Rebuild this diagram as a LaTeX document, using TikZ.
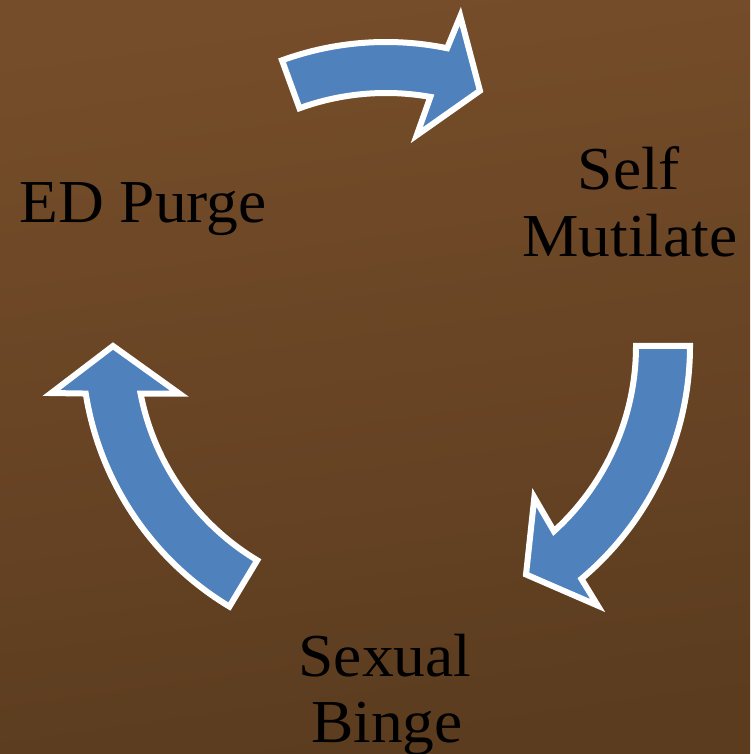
\documentclass[tikz,border=0pt]{standalone}
\usepackage{fontspec}
\setmainfont{Liberation Serif}[FakeStretch=1.04]
\usetikzlibrary{calc}

\definecolor{bgtop}{HTML}{764D2A}
\definecolor{bgbottom}{HTML}{5B3C1F}
\definecolor{arrowblue}{HTML}{4F81BD}

\tikzset{
  cyclearrow/.style={fill=arrowblue, draw=white, line width=6pt, line join=miter, miter limit=10},
  label/.style={inner sep=0pt, anchor=base, text=black, font=\fontsize{61}{67}\selectfont}
}

\begin{document}
\begin{tikzpicture}[x=1pt, y=1pt]
  % background
  \shade[top color=bgtop, bottom color=bgbottom, shading angle=8]
    (0,0) rectangle (750,754);
  \useasboundingbox (0,0) rectangle (750,754);

  \coordinate (c) at (386,408);

  % top arrow: ED Purge -> Self Mutilate
  \path[cyclearrow]
    ($(c)+(110:304)$) arc[start angle=110, end angle=78.4, radius=304]
    -- ($(c)+(77.3:338)$) -- ($(c)+(69.8:272)$) -- ($(c)+(81.7:213)$)
    -- ($(c)+(79.9:253)$) arc[start angle=79.9, end angle=110, radius=253]
    -- cycle;

  % right arrow: Self Mutilate -> Sexual Binge
  \path[cyclearrow]
    ($(c)+(0:304)$) arc[start angle=0, end angle=-50, radius=304]
    -- ($(c)+(-50.8:335)$) -- ($(c)+(-58.5:268)$) -- ($(c)+(-45.6:212)$)
    -- ($(c)+(-47.8:250)$) arc[start angle=-47.8, end angle=0, radius=250]
    -- cycle;

  % left arrow: Sexual Binge -> ED Purge
  \path[cyclearrow]
    ($(c)+(239:304)$) arc[start angle=239, end angle=189, radius=304]
    -- ($(c)+(188:338)$) -- ($(c)+(180:273)$) -- ($(c)+(193:212)$)
    -- ($(c)+(191:250)$) arc[start angle=191, end angle=239, radius=250]
    -- cycle;

  % labels (the last line runs off the bottom edge)
  \node[label] (purge) at (143,531) {ED Purge};
  \node[label] (self) at (629,564) {Self};
  \node[label] (mutilate) at (630,497) {Mutilate};
  \node[label] (sexual) at (385,77) {Sexual};
  \node[label] (binge) at (387,11) {Binge};
\end{tikzpicture}
\end{document}
